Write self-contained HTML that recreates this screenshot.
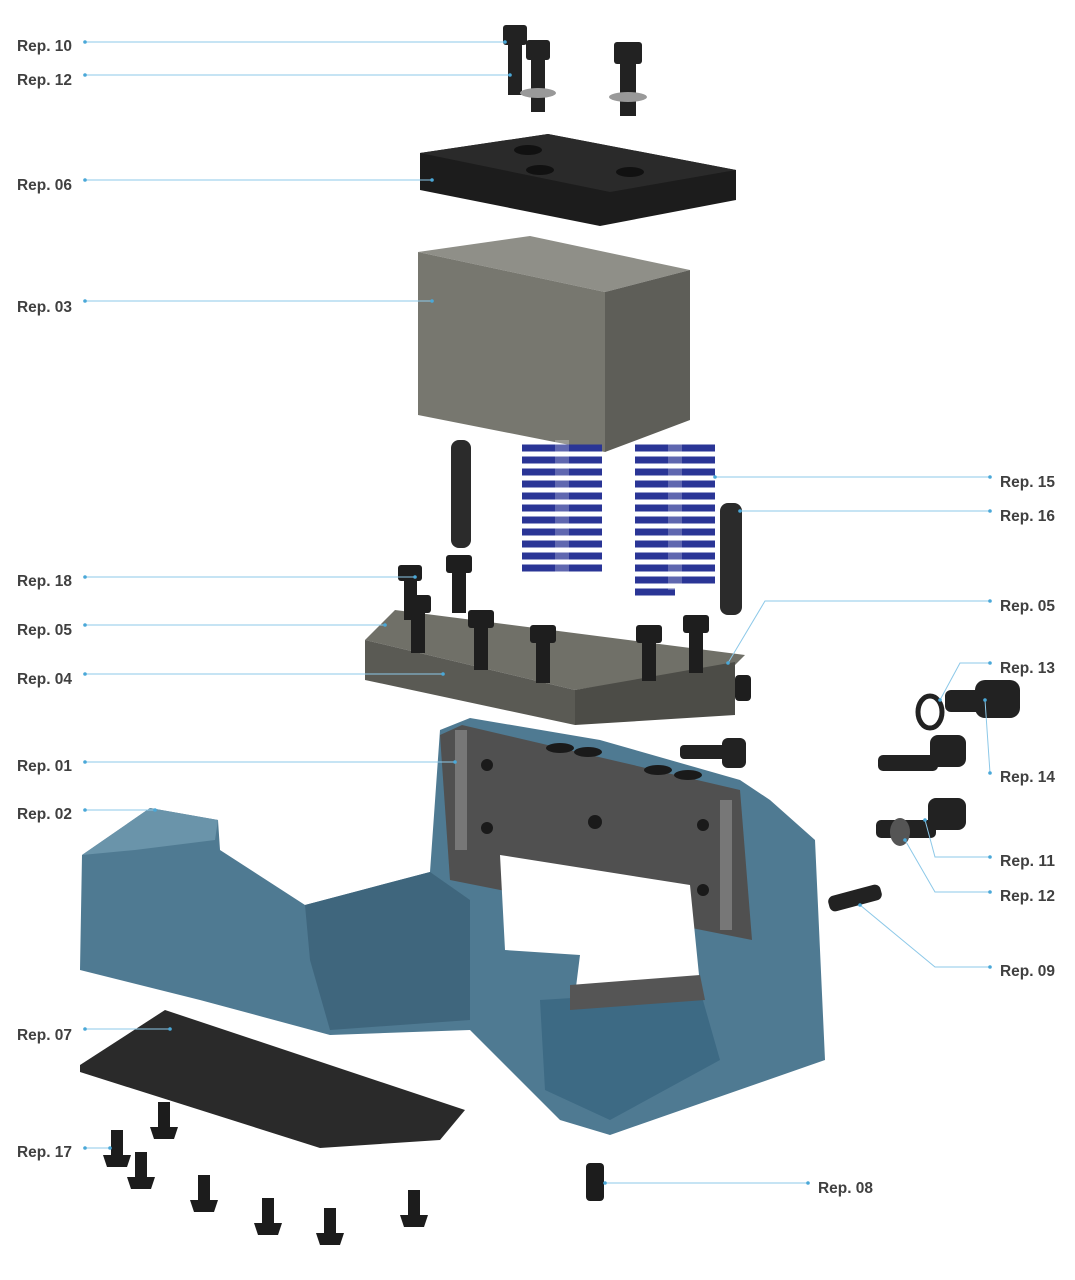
<!DOCTYPE html>
<html><head><meta charset="utf-8"><style>
html,body{margin:0;padding:0;background:#fff}
svg{display:block}
text{font-family:"Liberation Sans Narrow","Liberation Sans",sans-serif;font-size:16px;font-weight:bold;fill:#404040}
.l{stroke:#8cc8e8;stroke-width:1;fill:none}
.d{fill:#4aa8d8}
</style></head><body>
<svg width="1075" height="1280" viewBox="0 0 1075 1280" xmlns="http://www.w3.org/2000/svg">
<g fill="#222">
<rect x="503" y="25" width="24" height="20" rx="3"/><rect x="508" y="45" width="14" height="50"/>
<rect x="526" y="40" width="24" height="20" rx="3"/><rect x="531" y="60" width="14" height="52"/>
<ellipse cx="538" cy="93" rx="18" ry="5" fill="#999"/>
<rect x="614" y="42" width="28" height="22" rx="3"/><rect x="620" y="64" width="16" height="52"/>
<ellipse cx="628" cy="97" rx="19" ry="5" fill="#999"/>
</g>
<polygon points="420,153 548,134 736,170 736,200 600,226 420,190" fill="#1c1c1c"/>
<polygon points="420,153 548,134 736,170 610,192" fill="#2a2a2a"/>
<ellipse cx="528" cy="150" rx="14" ry="5" fill="#111"/><ellipse cx="540" cy="170" rx="14" ry="5" fill="#111"/><ellipse cx="630" cy="172" rx="14" ry="5" fill="#111"/>
<polygon points="418,252 530,236 690,270 605,292" fill="#8f8f88"/>
<polygon points="418,252 605,292 605,452 418,415" fill="#77776f"/>
<polygon points="605,292 690,270 690,420 605,452" fill="#5e5e58"/>
<g fill="none" stroke="#2a3596" stroke-width="7">
<path d="M522,448 h80 M522,460 h80 M522,472 h80 M522,484 h80 M522,496 h80 M522,508 h80 M522,520 h80 M522,532 h80 M522,544 h80 M522,556 h80 M522,568 h80"/>
<path d="M635,448 h80 M635,460 h80 M635,472 h80 M635,484 h80 M635,496 h80 M635,508 h80 M635,520 h80 M635,532 h80 M635,544 h80 M635,556 h80 M635,568 h80 M635,580 h80 M635,592 h40"/>
</g>
<rect x="555" y="440" width="14" height="140" fill="#fff" opacity=".25"/>
<rect x="668" y="440" width="14" height="150" fill="#fff" opacity=".25"/>
<rect x="451" y="440" width="20" height="108" rx="8" fill="#2b2b2b"/>
<rect x="720" y="503" width="22" height="112" rx="8" fill="#2b2b2b"/>
<polygon points="365,640 395,610 745,655 735,665 575,690" fill="#707068"/>
<polygon points="365,640 575,690 575,725 365,680" fill="#5a5a54"/>
<polygon points="575,690 735,662 735,715 575,725" fill="#4c4c47"/>
<g fill="#1e1e1e">
<rect x="398" y="565" width="24" height="16" rx="3"/><rect x="404" y="580" width="13" height="40"/>
<rect x="446" y="555" width="26" height="18" rx="3"/><rect x="452" y="573" width="14" height="40"/>
<rect x="405" y="595" width="26" height="18" rx="3"/><rect x="411" y="613" width="14" height="40"/>
<rect x="468" y="610" width="26" height="18" rx="3"/><rect x="474" y="628" width="14" height="42"/>
<rect x="530" y="625" width="26" height="18" rx="3"/><rect x="536" y="643" width="14" height="40"/>
<rect x="636" y="625" width="26" height="18" rx="3"/><rect x="642" y="643" width="14" height="38"/>
<rect x="683" y="615" width="26" height="18" rx="3"/><rect x="689" y="633" width="14" height="40"/>
<rect x="735" y="675" width="16" height="26" rx="4"/>
</g>
<polygon points="80,970 82,855 150,808 218,820 220,850 305,905 430,872 440,730 470,718 600,740 740,780 770,800 815,840 825,1060 610,1135 560,1120 470,1030 330,1035 200,1000" fill="#4f7a92"/>
<polygon points="82,855 150,808 218,820 215,840 135,850" fill="#6a94aa"/>
<polygon points="305,905 430,872 470,900 470,1020 330,1030 310,960" fill="#3f667d"/>
<polygon points="540,1000 700,990 720,1060 610,1120 545,1090" fill="#3d6a84"/>
<polygon points="440,735 462,725 740,790 752,940 450,880" fill="#505050"/>
<polygon points="500,855 690,885 700,985 575,995 580,955 505,950" fill="#ffffff"/>
<polygon points="570,985 700,975 705,1000 570,1010" fill="#555"/>
<g fill="#1a1a1a"><circle cx="487" cy="765" r="6"/><circle cx="487" cy="828" r="6"/><circle cx="703" cy="825" r="6"/><circle cx="703" cy="890" r="6"/><circle cx="595" cy="822" r="7"/>
<ellipse cx="560" cy="748" rx="14" ry="5"/><ellipse cx="588" cy="752" rx="14" ry="5"/><ellipse cx="658" cy="770" rx="14" ry="5"/><ellipse cx="688" cy="775" rx="14" ry="5"/></g>
<rect x="455" y="730" width="12" height="120" fill="#777"/><rect x="720" y="800" width="12" height="130" fill="#777"/>
<polygon points="80,1065 165,1010 465,1110 440,1140 320,1148 80,1072" fill="#2a2a2a"/>
<g fill="#1c1c1c">
<path d="M111,1130h12v25h8l-4,12h-20l-4,-12h8z"/><path d="M158,1102h12v25h8l-4,12h-20l-4,-12h8z"/>
<path d="M135,1152h12v25h8l-4,12h-20l-4,-12h8z"/><path d="M198,1175h12v25h8l-4,12h-20l-4,-12h8z"/>
<path d="M262,1198h12v25h8l-4,12h-20l-4,-12h8z"/><path d="M324,1208h12v25h8l-4,12h-20l-4,-12h8z"/>
<path d="M408,1190h12v25h8l-4,12h-20l-4,-12h8z"/>
<rect x="586" y="1163" width="18" height="38" rx="4"/>
</g>
<g fill="#222">
<rect x="680" y="745" width="50" height="14" rx="4"/><rect x="722" y="738" width="24" height="30" rx="6"/>
<rect x="878" y="755" width="60" height="16" rx="5"/><rect x="930" y="735" width="36" height="32" rx="8"/>
<ellipse cx="930" cy="712" rx="12" ry="16" fill="none" stroke="#222" stroke-width="5"/>
<rect x="945" y="690" width="45" height="22" rx="6"/><rect x="975" y="680" width="45" height="38" rx="10"/>
<rect x="876" y="820" width="60" height="18" rx="5"/><rect x="928" y="798" width="38" height="32" rx="8"/>
<ellipse cx="900" cy="832" rx="10" ry="14" fill="#555"/>
<rect x="828" y="890" width="54" height="16" rx="6" transform="rotate(-15 855 898)"/>
</g>
<g class="l">
<path d="M85,42H505M85,75H510M85,180H432M85,301H432M85,577H415M85,625H385M85,674H443M85,762H455M85,810H155M85,1029H170M85,1148H110"/>
<path d="M990,477H715M990,511H740M990,601H765L728,663M990,663H960L940,700M990,773L985,700M990,857H935L925,820M990,892H935L905,840M990,967H935L860,905M808,1183H605"/>
</g>
<g class="d">
<circle cx="85" cy="42" r="1.8"/><circle cx="85" cy="75" r="1.8"/><circle cx="85" cy="180" r="1.8"/><circle cx="85" cy="301" r="1.8"/><circle cx="85" cy="577" r="1.8"/><circle cx="85" cy="625" r="1.8"/><circle cx="85" cy="674" r="1.8"/><circle cx="85" cy="762" r="1.8"/><circle cx="85" cy="810" r="1.8"/><circle cx="85" cy="1029" r="1.8"/><circle cx="85" cy="1148" r="1.8"/>
<circle cx="505" cy="42" r="1.8"/><circle cx="510" cy="75" r="1.8"/><circle cx="432" cy="180" r="1.8"/><circle cx="432" cy="301" r="1.8"/><circle cx="415" cy="577" r="1.8"/><circle cx="385" cy="625" r="1.8"/><circle cx="443" cy="674" r="1.8"/><circle cx="455" cy="762" r="1.8"/><circle cx="155" cy="810" r="1.8"/><circle cx="170" cy="1029" r="1.8"/><circle cx="110" cy="1148" r="1.8"/>
<circle cx="990" cy="477" r="1.8"/><circle cx="990" cy="511" r="1.8"/><circle cx="990" cy="601" r="1.8"/><circle cx="990" cy="663" r="1.8"/><circle cx="990" cy="773" r="1.8"/><circle cx="990" cy="857" r="1.8"/><circle cx="990" cy="892" r="1.8"/><circle cx="990" cy="967" r="1.8"/><circle cx="808" cy="1183" r="1.8"/>
<circle cx="715" cy="477" r="1.8"/><circle cx="740" cy="511" r="1.8"/><circle cx="728" cy="663" r="1.8"/><circle cx="940" cy="700" r="1.8"/><circle cx="985" cy="700" r="1.8"/><circle cx="925" cy="820" r="1.8"/><circle cx="905" cy="840" r="1.8"/><circle cx="860" cy="905" r="1.8"/><circle cx="605" cy="1183" r="1.8"/>
</g>
<g>
<text x="17" y="51" textLength="55" lengthAdjust="spacingAndGlyphs">Rep. 10</text><text x="17" y="85" textLength="55" lengthAdjust="spacingAndGlyphs">Rep. 12</text><text x="17" y="190" textLength="55" lengthAdjust="spacingAndGlyphs">Rep. 06</text><text x="17" y="312" textLength="55" lengthAdjust="spacingAndGlyphs">Rep. 03</text><text x="17" y="586" textLength="55" lengthAdjust="spacingAndGlyphs">Rep. 18</text><text x="17" y="635" textLength="55" lengthAdjust="spacingAndGlyphs">Rep. 05</text><text x="17" y="684" textLength="55" lengthAdjust="spacingAndGlyphs">Rep. 04</text><text x="17" y="771" textLength="55" lengthAdjust="spacingAndGlyphs">Rep. 01</text><text x="17" y="819" textLength="55" lengthAdjust="spacingAndGlyphs">Rep. 02</text><text x="17" y="1040" textLength="55" lengthAdjust="spacingAndGlyphs">Rep. 07</text><text x="17" y="1157" textLength="55" lengthAdjust="spacingAndGlyphs">Rep. 17</text>
<text x="1000" y="487" textLength="55" lengthAdjust="spacingAndGlyphs">Rep. 15</text><text x="1000" y="521" textLength="55" lengthAdjust="spacingAndGlyphs">Rep. 16</text><text x="1000" y="611" textLength="55" lengthAdjust="spacingAndGlyphs">Rep. 05</text><text x="1000" y="673" textLength="55" lengthAdjust="spacingAndGlyphs">Rep. 13</text><text x="1000" y="782" textLength="55" lengthAdjust="spacingAndGlyphs">Rep. 14</text><text x="1000" y="866" textLength="55" lengthAdjust="spacingAndGlyphs">Rep. 11</text><text x="1000" y="901" textLength="55" lengthAdjust="spacingAndGlyphs">Rep. 12</text><text x="1000" y="976" textLength="55" lengthAdjust="spacingAndGlyphs">Rep. 09</text><text x="818" y="1193" textLength="55" lengthAdjust="spacingAndGlyphs">Rep. 08</text>
</g>
</svg>
</body></html>
